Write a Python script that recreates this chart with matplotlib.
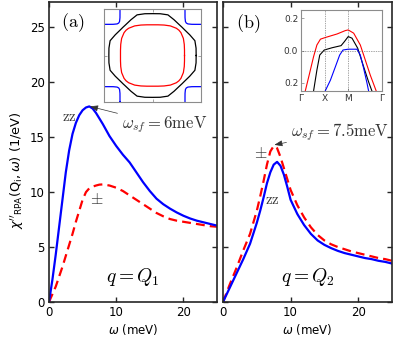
import numpy as np
import matplotlib
matplotlib.use("Agg")
import matplotlib.pyplot as plt

# ---------------------------------------------------------------------------
# Data
# ---------------------------------------------------------------------------

# panel (a): q = Q1
w_a = [0, 0.5, 1, 1.5, 2, 2.5, 3, 3.5, 4, 4.5, 5, 5.5, 6, 6.5, 7, 7.5, 8,
       9, 10, 11, 12, 13, 14, 15, 16, 17, 18, 19, 20, 21, 22, 23, 24, 25]
zz_a = [0, 2.0, 4.3, 6.8, 9.3, 11.8, 13.8, 15.3, 16.3, 17.0, 17.45, 17.7,
        17.8, 17.6, 17.2, 16.7, 16.2, 15.1, 14.2, 13.4, 12.7, 11.8, 10.9,
        10.1, 9.4, 8.9, 8.5, 8.15, 7.85, 7.6, 7.4, 7.25, 7.1, 6.95]
pm_a = [0, 0.7, 1.4, 2.3, 3.2, 4.2, 5.2, 6.2, 7.3, 8.3, 9.3, 10.0, 10.35,
        10.5, 10.6, 10.68, 10.7, 10.6, 10.4, 10.1, 9.7, 9.3, 8.9, 8.5, 8.1,
        7.8, 7.55, 7.4, 7.3, 7.2, 7.1, 7.0, 6.9, 6.85]

# panel (b): q = Q2
w_b = [0, 1, 2, 3, 4, 5, 5.5, 6, 6.5, 7, 7.5, 8, 8.5, 9, 9.5, 10,
       11, 12, 13, 14, 15, 16, 17, 18, 19, 20, 21, 22, 23, 24, 25]
zz_b = [0, 1.3, 2.6, 3.9, 5.3, 7.2, 8.3, 9.5, 10.8, 11.8, 12.5, 12.75,
        12.4, 11.6, 10.5, 9.3, 8.0, 7.0, 6.2, 5.6, 5.2, 4.9, 4.65, 4.45,
        4.3, 4.15, 4.0, 3.9, 3.75, 3.65, 3.5]
pm_b = [0, 1.6, 3.1, 4.7, 6.2, 8.3, 9.6, 11.0, 12.5, 13.7, 14.2, 14.0,
        13.2, 12.2, 11.2, 10.2, 8.8, 7.7, 6.8, 6.1, 5.6, 5.25, 5.0, 4.8,
        4.6, 4.45, 4.3, 4.15, 4.0, 3.9, 3.75]

# inset (a): Fermi surface, radius vs angle (deg) over one quadrant
fs_angle = [0, 10, 20, 30, 40, 45, 50, 60, 70, 80]
fs_black = [0.90, 0.912, 0.93, 0.888, 0.862, 0.86, 0.862, 0.888, 0.93, 0.912]
fs_red = [0.66, 0.67, 0.697, 0.735, 0.765, 0.77, 0.765, 0.735, 0.697, 0.67]
fs_blue = [0.33, 0.335, 0.351, 0.38, 0.419, 0.428, 0.419, 0.38, 0.351, 0.335]
pocket_centers = [(-1, 1), (1, 1), (-1, -1), (1, -1)]

# inset (b): bands along Gamma-X-M-Gamma
k_ticks = [0, 1, 2, 1 + 1 + np.sqrt(2)]
k_labels = ["Γ", "X", "M", "Γ"]
band_red_k = [0.18, 0.36, 0.53, 0.67, 0.82, 1.02, 1.52, 1.87, 1.99, 2.22,
              2.50, 2.71, 2.92, 3.17]
band_red_e = [-0.25, -0.142, -0.038, 0.034, 0.070, 0.080, 0.102, 0.123,
              0.127, 0.107, 0.034, -0.059, -0.152, -0.25]
band_blk_k = [0.53, 0.67, 0.79, 0.98, 1.31, 1.69, 1.83, 1.99, 2.15, 2.39,
              2.64, 2.85, 2.99]
band_blk_e = [-0.25, -0.121, -0.028, 0.003, 0.017, 0.030, 0.055, 0.086,
              0.076, 0.014, -0.10, -0.194, -0.25]
band_blu_k = [1.02, 1.24, 1.45, 1.63, 1.77, 1.99, 2.36, 2.50, 2.64, 2.78, 2.85]
band_blu_e = [-0.25, -0.183, -0.10, -0.028, 0.003, 0.008, 0.008, -0.028,
              -0.11, -0.20, -0.25]

# ---------------------------------------------------------------------------
# Plot
# ---------------------------------------------------------------------------

plt.rcParams["font.family"] = "DejaVu Sans"
plt.rcParams["mathtext.fontset"] = "dejavusans"

fig = plt.figure(figsize=(3.99, 3.46), dpi=100)
ax_a = fig.add_axes([49 / 399, 44 / 346, 168 / 399, 300 / 346])
ax_b = fig.add_axes([223 / 399, 44 / 346, 169 / 399, 300 / 346])

spine_c = "0.15"
for ax in (ax_a, ax_b):
    ax.set_xlim(0, 25)
    ax.set_ylim(0, 27.3)
    ax.set_xticks([0, 10, 20])
    ax.set_yticks([0, 5, 10, 15, 20, 25])
    ax.tick_params(direction="in", top=True, right=True, length=3.5,
                   width=1.0, labelsize=8.5, color=spine_c, pad=3)
    for s in ax.spines.values():
        s.set_linewidth(1.2)
        s.set_color(spine_c)
    ax.set_xlabel(r"$\omega$ (meV)", fontsize=8.5, labelpad=2)
ax_b.set_yticklabels([])

ax_a.set_ylabel(r"$\chi''_{\mathrm{RPA}}(\mathrm{Q_i},\omega)$ (1/eV)",
                fontsize=9.3)
ax_a.yaxis.set_label_coords(-0.135, 0.44)

dash = (4, 2.3)
ax_a.plot(w_a, pm_a, color="red", lw=1.6, dashes=dash)
ax_a.plot(w_a, zz_a, color="blue", lw=1.6)
ax_b.plot(w_b, pm_b, color="red", lw=1.6, dashes=dash)
ax_b.plot(w_b, zz_b, color="blue", lw=1.6)

cm = dict(math_fontfamily="cm")
txt_c = "0.2"
ax_a.text(0.143, 0.93, r"$\mathrm{(a)}$", transform=ax_a.transAxes,
          fontsize=13, ha="center", va="center", **cm)
ax_b.text(0.148, 0.927, r"$\mathrm{(b)}$", transform=ax_b.transAxes,
          fontsize=13, ha="center", va="center", **cm)
ax_a.text(12.5, 2.3, r"$q = Q_1$", fontsize=14, ha="center", va="center", **cm)
ax_b.text(12.6, 2.3, r"$q = Q_2$", fontsize=14, ha="center", va="center", **cm)

ax_a.text(3.0, 16.9, r"$\mathrm{zz}$", fontsize=10.5, ha="center",
          va="center", color=txt_c, **cm)
ax_a.text(7.1, 9.3, r"$\pm$", fontsize=11.5, ha="center", va="center",
          color=txt_c, **cm)
ax_b.text(7.3, 9.3, r"$\mathrm{zz}$", fontsize=10.5, ha="center",
          va="center", color=txt_c, **cm)
ax_b.text(5.6, 13.5, r"$\pm$", fontsize=11.5, ha="center", va="center",
          color=txt_c, **cm)

arrow = dict(arrowstyle="-|>,head_length=0.4,head_width=0.15", lw=0.5,
             color="0.2", shrinkA=1, shrinkB=0)
ax_a.annotate(r"$\omega_{sf} = 6\mathrm{meV}$", xy=(6.1, 17.8),
              xytext=(10.8, 16.1), fontsize=12, ha="left", va="center",
              color=txt_c, arrowprops=arrow, **cm)
ax_b.annotate(r"$\omega_{sf} = 7.5\mathrm{meV}$", xy=(7.6, 14.3),
              xytext=(10.0, 15.5), fontsize=12, ha="left", va="center",
              color=txt_c, arrowprops=arrow, **cm)

# inset (a): Fermi surfaces
ins_a = fig.add_axes([104 / 399, 244 / 346, 97 / 399, 93 / 346])
ang = np.deg2rad(np.array(fs_angle))
full_ang = np.concatenate([ang + q * np.pi / 2 for q in range(4)])


def ring(radii):
    r = np.tile(radii, 4)
    x, y = r * np.cos(full_ang), r * np.sin(full_ang)
    return np.append(x, x[0]), np.append(y, y[0])


x, y = ring(fs_black)
ins_a.plot(x, y, color="black", lw=0.9)
x, y = ring(fs_red)
ins_a.plot(x, y, color="red", lw=0.9)
for cx, cy in pocket_centers:
    x, y = ring(fs_blue)
    ins_a.plot(x + cx, y + cy, color="blue", lw=0.9)
ins_a.set_xlim(-1, 1)
ins_a.set_ylim(-1, 1)
ins_a.set_xticks([0])
ins_a.set_yticks([0])
ins_a.tick_params(direction="in", top=True, right=True, length=2, width=0.5,
                  color="0.5", labelbottom=False, labelleft=False)
for s in ins_a.spines.values():
    s.set_linewidth(0.8)
    s.set_color("0.55")

# inset (b): band structure
ins_b = fig.add_axes([301 / 399, 255 / 346, 81 / 399, 81 / 346])
ins_b.plot(band_red_k, band_red_e, color="red", lw=0.8)
ins_b.plot(band_blk_k, band_blk_e, color="black", lw=0.8)
ins_b.plot(band_blu_k, band_blu_e, color="blue", lw=0.8)
for kx in k_ticks[1:3]:
    ins_b.axvline(kx, color="0.3", lw=0.5, ls=(0, (1, 1.5)))
ins_b.axhline(0, color="0.3", lw=0.5, ls=(0, (1, 1.5)))
ins_b.set_xlim(k_ticks[0], k_ticks[-1])
ins_b.set_ylim(-0.25, 0.25)
ins_b.set_xticks(k_ticks)
ins_b.set_xticklabels(k_labels)
ins_b.set_yticks([0.2, 0.0, -0.2])
ins_b.set_yticklabels(["0.2", "0.0", "0.2"])
ins_b.tick_params(direction="in", length=2, width=0.5, color="0.5",
                  labelsize=6.5, pad=2, labelcolor="0.2")
for s in ins_b.spines.values():
    s.set_linewidth(0.8)
    s.set_color("0.55")

fig.savefig("out.png", dpi=100)
